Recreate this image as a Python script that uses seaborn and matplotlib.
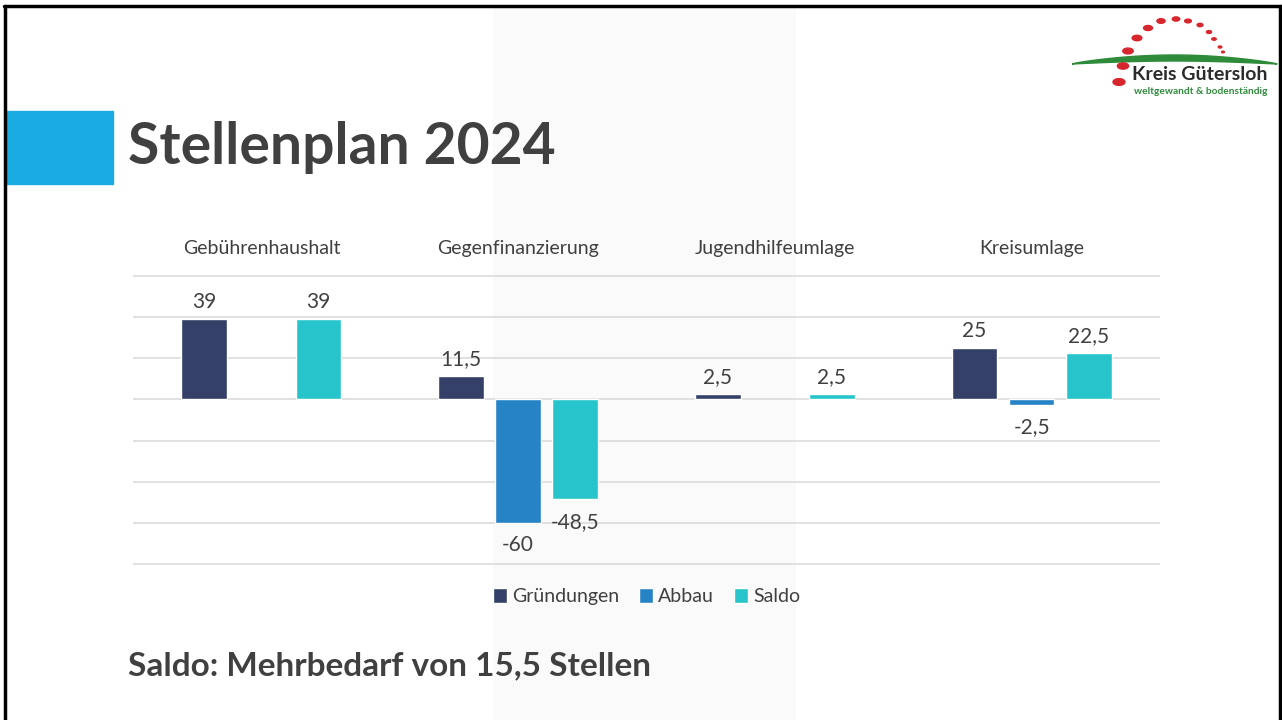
import numpy as np
import pandas as pd
import matplotlib
matplotlib.use("Agg")
import matplotlib.pyplot as plt
import matplotlib.patches as mpatches
import seaborn as sns

# Daten
kategorien = ["Gebührenhaushalt", "Gegenfinanzierung", "Jugendhilfeumlage", "Kreisumlage"]
gruendungen = [39, 11.5, 2.5, 25]
abbau = [np.nan, -60, np.nan, -2.5]
saldo = [39, -48.5, 2.5, 22.5]
serien = ["Gründungen", "Abbau", "Saldo"]
farben = ["#344068", "#2683C6", "#27C5CB"]

df = pd.DataFrame({"Kategorie": kategorien, "Gründungen": gruendungen,
                   "Abbau": abbau, "Saldo": saldo})
long = df.melt(id_vars="Kategorie", var_name="Serie", value_name="Wert")

sns.set_theme(style="white")
plt.rcParams["font.family"] = ["Lato", "DejaVu Sans"]
txt = "#404040"

W, H = 1282, 720
fig = plt.figure(figsize=(W / 100, H / 100), dpi=100)
fig.patch.set_facecolor("white")


def fx(px):
    return px / W


def fy(py):
    return 1 - py / H


# heller Hintergrundstreifen + Rahmen
fig.add_artist(mpatches.Rectangle((fx(493), 0), fx(795 - 493), fy(7),
                                  transform=fig.transFigure, color="#FAFAFA", zorder=0))
fig.add_artist(plt.Line2D([fx(4), 1], [fy(6), fy(6)], transform=fig.transFigure,
                          color="black", lw=2.5))
fig.add_artist(plt.Line2D([fx(5), fx(5)], [0, fy(6)], transform=fig.transFigure,
                          color="black", lw=2.5))
fig.add_artist(plt.Line2D([fx(1280), fx(1280)], [0, fy(6)], transform=fig.transFigure,
                          color="black", lw=2.5))

# Titel
fig.add_artist(mpatches.Rectangle((fx(6), fy(184)), fx(113 - 6), 73 / H,
                                  transform=fig.transFigure, color="#1AABE2"))
fig.text(fx(128), fy(147), "Stellenplan 2024", fontsize=41, fontweight="bold",
         color=txt, va="center", ha="left")
fig.text(fx(128), fy(666), "Saldo: Mehrbedarf von 15,5 Stellen", fontsize=24,
         fontweight="bold", color=txt, va="center", ha="left")

# Logo (vereinfacht)
punkte_x = [1119, 1123, 1128, 1137, 1148, 1161, 1176, 1188, 1200, 1209, 1214, 1220, 1223]
punkte_y = [82, 66, 51, 38, 28, 21, 19, 21, 25, 32, 39, 47, 52]
for i, (px, py) in enumerate(zip(punkte_x, punkte_y)):
    fig.add_artist(mpatches.Circle((fx(px), fy(py)), max(6.0 - i * 0.38, 1.3) / W,
                                   transform=fig.transFigure, color="#D7262E", zorder=2))
sx = np.linspace(1072, 1277, 80)
s = (sx - 1072) / (1277 - 1072)
upper = 64 - 9 * np.sin(np.pi * s) ** 0.8
lower = 64 - 3 * np.sin(np.pi * s)
poly = np.column_stack([np.r_[sx, sx[::-1]] / W, 1 - np.r_[upper, lower[::-1]] / H])
fig.add_artist(mpatches.Polygon(poly, closed=True, transform=fig.transFigure,
                                color="#2E8B3A", zorder=1))
fig.text(fx(1268), fy(74), "Kreis Gütersloh", fontsize=14, fontweight="bold",
         color="#2B2B2B", ha="right", va="center")
fig.text(fx(1268), fy(91), "weltgewandt & bodenständig", fontsize=7.3, fontweight="bold",
         color="#2E8B3A", ha="right", va="center")

# Diagramm
ax = fig.add_axes([fx(133), fy(565), fx(1160 - 133), (565 - 275) / H])
ax.set_facecolor("none")
sns.barplot(data=long, x="Kategorie", y="Wert", hue="Serie", hue_order=serien,
            palette=farben, width=0.667, gap=0.2, ax=ax, legend=True, saturation=1,
            errorbar=None)

ax.set_ylim(-80.4, 60.4)
ax.set_xlim(-0.5, 3.5)
ax.set_yticks(np.arange(-80, 61, 20))
ax.yaxis.grid(True, color="#D9D9D9", lw=1.1)
ax.set_axisbelow(True)
for sp in ax.spines.values():
    sp.set_visible(False)
ax.tick_params(axis="y", left=False, labelleft=False)
ax.xaxis.tick_top()
ax.tick_params(axis="x", top=False, bottom=False, labelsize=14, labelcolor=txt, pad=7)
ax.set_xlabel("")
ax.set_ylabel("")


def fmt(v):
    return f"{v:g}".replace(".", ",")


# Werte: positive über, negative unter den Balken
for cont in ax.containers:
    vals = cont.datavalues
    pos = [fmt(v) if v >= 0 else "" for v in vals]
    neg = [fmt(v) if v < 0 else "" for v in vals]
    ax.bar_label(cont, labels=pos, padding=5, fontsize=15, color=txt)
    ax.bar_label(cont, labels=neg, padding=9, fontsize=15, color=txt)

leg = ax.legend(loc="upper center", bbox_to_anchor=(0.5, -0.02), ncol=3, frameon=False,
                fontsize=14, handlelength=0.75, handleheight=0.75, handletextpad=0.25,
                columnspacing=1.0)
for tx in leg.get_texts():
    tx.set_color(txt)

fig.savefig("out.png", dpi=100)
